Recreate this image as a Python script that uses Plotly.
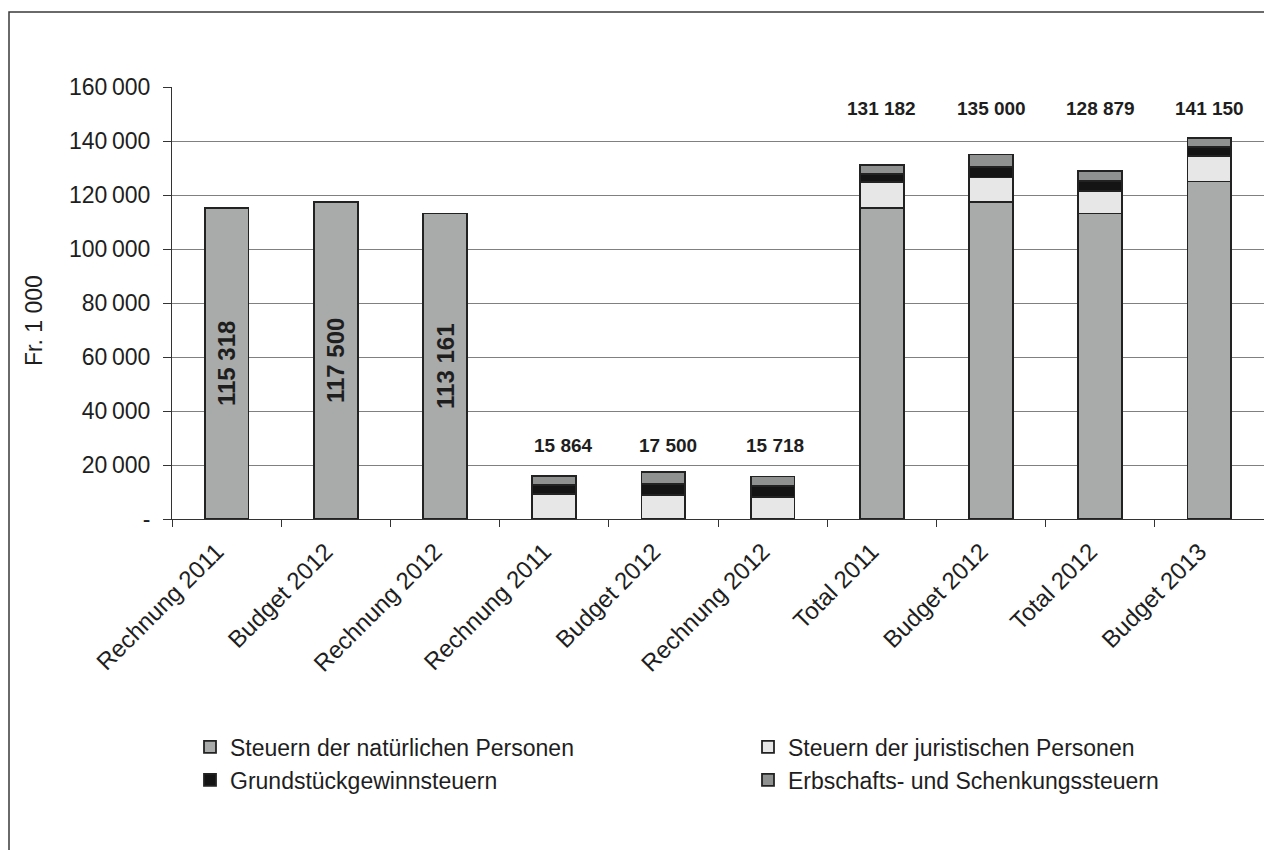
import plotly.graph_objects as go

# Kategorien (Achsenbeschriftungen)
categories = ["Rechnung 2011", "Budget 2012", "Rechnung 2012",
              "Rechnung 2011", "Budget 2012", "Rechnung 2012",
              "Total 2011", "Budget 2012", "Total 2012", "Budget 2013"]

# Werte in Fr. 1 000
natuerliche = [115318, 117500, 113161, 0, 0, 0, 115318, 117500, 113161, 125000]
juristische = [0, 0, 0, 9400, 9000, 8250, 9400, 9000, 8250, 9500]
grundstueck = [0, 0, 0, 3100, 4000, 3850, 3100, 4000, 3850, 3200]
erbschaft = [0, 0, 0, 3364, 4500, 3618, 3364, 4500, 3618, 3450]

series_names = ["Steuern der natürlichen Personen",
                "Steuern der juristischen Personen",
                "Grundstückgewinnsteuern",
                "Erbschafts- und Schenkungssteuern"]
series_colors = ["#A9AAAA", "#E6E7E6", "#141414", "#8F9090"]

ytick_vals = [0, 20000, 40000, 60000, 80000, 100000, 120000, 140000, 160000]
ytick_text = ["-", "20\u2009000", "40\u2009000", "60\u2009000", "80\u2009000", "100\u2009000",
              "120\u2009000", "140\u2009000", "160\u2009000"]

FONT = "Arial, 'Liberation Sans', sans-serif"
TXT = "#1e1e1e"

W, H = 1264, 850
L, T, B = 172, 87, 331
pw = W - L
ph = H - T - B


def px_x(px):
    return (px - L) / pw


def px_y(py):
    return (H - B - py) / ph


def fmt(v):
    return f"{v:,}".replace(",", " ")


x = list(range(len(categories)))
series = [natuerliche, juristische, grundstueck, erbschaft]
legend_ids = ["legend", "legend2", "legend3", "legend4"]
# Legende: zwei Spalten, zwei Zeilen (linke Kante, Zeilenmitte in Pixel)
legend_pos = [(190, 747), (748, 747), (190, 780), (748, 780)]

fig = go.Figure()
for i, (name, vals, col) in enumerate(zip(series_names, series, series_colors)):
    kw = {}
    if i == 0:
        # Beschriftung im Balken nur für die ersten drei Säulen
        kw = dict(
            text=[fmt(v) if k < 3 else "" for k, v in enumerate(vals)],
            textposition="inside",
            textangle=-90,
            insidetextanchor="middle",
            insidetextfont=dict(family=FONT, size=24, color=TXT, weight="bold"),
        )
    fig.add_trace(go.Bar(
        x=x, y=vals, name=name, legend=legend_ids[i],
        marker=dict(color=col, line=dict(color="#222222", width=1.8)),
        hoverinfo="skip",
        **kw,
    ))

totals = [sum(s[k] for s in series) for k in x]

annotations = []
for k, dx in zip(range(3, 6), [9, 5, 2]):
    annotations.append(dict(x=k, y=27400, xref="x", yref="y", text=f"<b>{fmt(totals[k])}</b>",
                            showarrow=False, xshift=dx,
                            font=dict(family=FONT, size=19, color=TXT)))
for k in range(6, 10):
    annotations.append(dict(x=k, y=151900, xref="x", yref="y", text=f"<b>{fmt(totals[k])}</b>",
                            showarrow=False, font=dict(family=FONT, size=19, color=TXT)))
# Achsentitel
annotations.append(dict(x=px_x(34), y=px_y(321), xref="paper", yref="paper",
                        xanchor="center", yanchor="middle",
                        text="Fr. 1 000", textangle=-90, showarrow=False,
                        font=dict(family=FONT, size=23, color=TXT)))

legends = {}
for lid, (lx, ly) in zip(legend_ids, legend_pos):
    legends[lid] = dict(
        orientation="h",
        x=px_x(lx), y=px_y(ly),
        xanchor="left", yanchor="middle",
        font=dict(family=FONT, size=23, color=TXT),
        bgcolor="rgba(0,0,0,0)", borderwidth=0,
        itemclick=False, itemdoubleclick=False,
    )

fig.update_layout(
    width=W, height=H,
    margin=dict(l=L, r=0, t=T, b=B, pad=0),
    barmode="stack",
    bargap=0.6,
    plot_bgcolor="white",
    paper_bgcolor="white",
    font=dict(family=FONT, size=22, color=TXT),
    showlegend=True,
    annotations=annotations,
    shapes=[dict(type="rect", xref="paper", yref="paper",
                 x0=px_x(9), x1=px_x(1300),
                 y0=px_y(900), y1=px_y(12),
                 line=dict(color="#3a3a3a", width=1.5), fillcolor="rgba(0,0,0,0)",
                 layer="below")],
    **legends,
)

fig.update_xaxes(
    range=[-0.5, 9.5],
    tickmode="array", tickvals=x, ticktext=categories,
    tickangle=-45, ticks="",
    ticklabelstandoff=8, ticklabelshift=-10,
    tickfont=dict(family=FONT, size=24, color=TXT),
    showgrid=False, zeroline=False,
    showline=True, linecolor="#333333", linewidth=1,
    minor=dict(tickmode="array", tickvals=[k + 0.5 for k in range(-1, 10)],
               ticks="outside", ticklen=7, tickcolor="#333333", tickwidth=1, showgrid=False),
)
fig.update_yaxes(
    range=[0, 160000],
    tickmode="array", tickvals=ytick_vals, ticktext=ytick_text,
    ticks="outside", ticklen=8, tickcolor="#333333",
    ticklabelstandoff=8,
    tickfont=dict(family=FONT, size=23, color=TXT),
    showgrid=True, gridcolor="#808080", gridwidth=1,
    zeroline=False,
    showline=True, linecolor="#333333", linewidth=1,
)

fig.write_html("out.html")
